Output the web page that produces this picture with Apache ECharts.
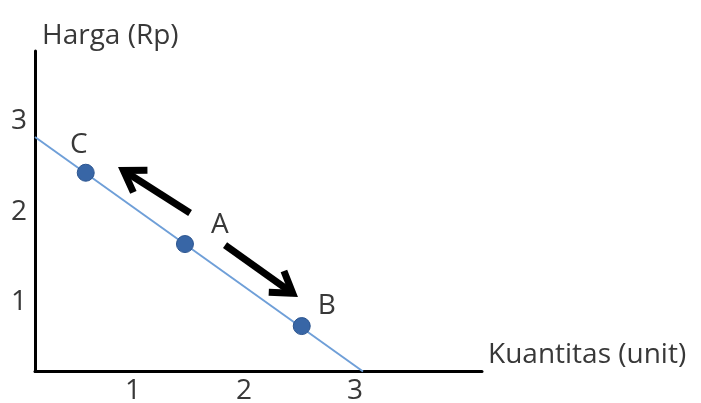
<!DOCTYPE html>
<html><head><meta charset="utf-8">
<script src="https://cdn.jsdelivr.net/npm/echarts@6/dist/echarts.min.js"></script>
<style>html,body{margin:0;padding:0;background:#fff}#c{width:701px;height:403px}</style>
</head><body><div id="c"></div>
<script>
// ---- data ----
const xTicks = [1, 2, 3];
const yTicks = [1, 2, 3];
const xName = 'Kuantitas (unit)';
const yName = 'Harga (Rp)';
const demandX = [0.117, 3.072];
const demandY = [2.829, 0.238];
const pointNames = ['C', 'A', 'B'];
const pointX = [0.574, 1.468, 2.520];
const pointY = [2.434, 1.646, 0.740];
const arrowFromX = [1.514, 1.829];
const arrowFromY = [1.989, 1.635];
const arrowToX = [0.865, 2.486];
const arrowToY = [2.497, 1.061];

// ---- styles ----
const FONT = 'Open Sans';
const FS = 28;
const TXT = '#383838';
const labelOffsets = { C: [-7, -28], A: [35, -19], B: [25, -20] };

const chart = echarts.init(document.getElementById('c'), null, { renderer: 'canvas' });

const demandData = demandX.map((x, i) => [x, demandY[i]]);
const pointData = pointNames.map((n, i) => ({
  name: n, value: [pointX[i], pointY[i]],
  label: { offset: labelOffsets[n] }
}));
const arrowData = arrowFromX.map((x, i) => [x, arrowFromY[i], arrowToX[i], arrowToY[i]]);

chart.setOption({
  animation: false,
  backgroundColor: '#ffffff',
  grid: { left: 35, right: 219, top: 51, bottom: 31.5, containLabel: false, outerBoundsMode: 'none' },
  xAxis: {
    type: 'value', min: 0.117, max: 4.144,
    name: xName, nameLocation: 'end', nameGap: 6,
    nameTextStyle: { fontFamily: FONT, fontSize: FS, color: TXT, align: 'left', verticalAlign: 'bottom', padding: [0, 0, 2, 0] },
    axisLine: { onZero: false, lineStyle: { color: '#000', width: 3 } },
    axisTick: { show: false },
    splitLine: { show: false },
    axisLabel: { customValues: xTicks, margin: 6, fontFamily: FONT, fontSize: FS, color: TXT }
  },
  yAxis: {
    type: 'value', min: 0.238, max: 3.779,
    name: yName, nameLocation: 'end', nameGap: 1,
    nameTextStyle: { fontFamily: FONT, fontSize: FS, color: TXT, align: 'left', verticalAlign: 'bottom', padding: [0, 0, 0, 7] },
    axisLine: { onZero: false, lineStyle: { color: '#000', width: 3 } },
    axisTick: { show: false },
    splitLine: { show: false },
    axisLabel: { customValues: yTicks, margin: 8, fontFamily: FONT, fontSize: FS, color: TXT }
  },
  series: [
    {
      type: 'line', data: demandData, symbol: 'none', silent: true,
      lineStyle: { color: '#6f9fd8', width: 2 }
    },
    {
      type: 'custom', silent: true,
      encode: { x: [0, 2], y: [1, 3] },
      data: arrowData,
      renderItem: function (params, api) {
        const p1 = api.coord([api.value(0), api.value(1)]);
        const p2 = api.coord([api.value(2), api.value(3)]);
        const dx = p2[0] - p1[0], dy = p2[1] - p1[1];
        const len = Math.sqrt(dx * dx + dy * dy);
        const ux = dx / len, uy = dy / len;
        const w = 7, a = 33 * Math.PI / 180, L = 24;
        const back = (w / 2) / Math.sin(a);
        const ax = p2[0] - ux * back, ay = p2[1] - uy * back;
        const bx = -ux, by = -uy;
        const c = Math.cos(a), s = Math.sin(a);
        const l1 = [ax + L * (bx * c - by * s), ay + L * (bx * s + by * c)];
        const l2 = [ax + L * (bx * c + by * s), ay + L * (-bx * s + by * c)];
        return {
          type: 'group',
          children: [
            { type: 'line', shape: { x1: p1[0], y1: p1[1], x2: ax, y2: ay },
              style: { stroke: '#000', lineWidth: w, lineCap: 'butt' } },
            { type: 'polyline', shape: { points: [l1, [ax, ay], l2] },
              style: { stroke: '#000', lineWidth: w, lineJoin: 'miter', lineCap: 'butt', fill: null } }
          ]
        };
      }
    },
    {
      type: 'scatter', data: pointData, symbol: 'circle', symbolSize: 17, silent: true,
      itemStyle: { color: '#3866a6', borderColor: '#2c5590', borderWidth: 1, opacity: 1 },
      label: {
        show: true, position: 'inside', formatter: '{b}',
        fontFamily: FONT, fontSize: FS, color: TXT
      },
      z: 5
    }
  ]
});
</script>
</body></html>
